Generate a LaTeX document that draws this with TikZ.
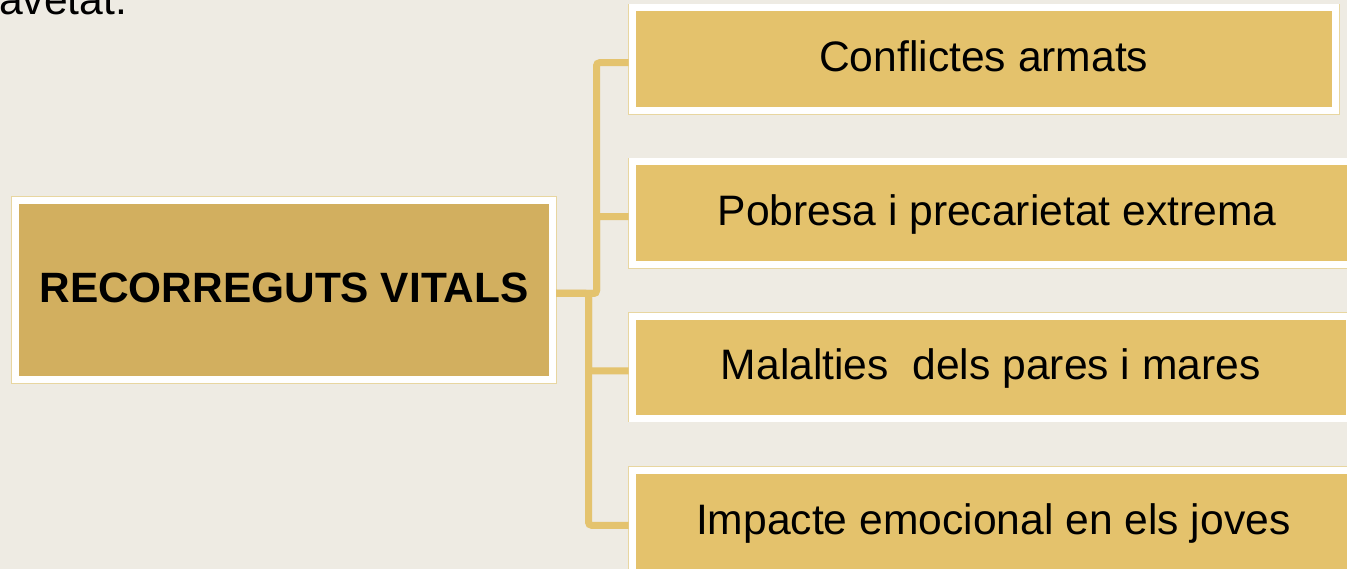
\documentclass[tikz,border=0pt]{standalone}
\usepackage{fontspec}
\setmainfont{Liberation Sans}

\definecolor{paper}{RGB}{238,235,227}
\definecolor{rootgold}{RGB}{210,175,95}
\definecolor{boxgold}{RGB}{228,194,108}
\definecolor{linkgold}{RGB}{228,195,110}
\definecolor{rimgold}{RGB}{232,214,160}

\begin{document}
\begin{tikzpicture}[x=1pt, y=-1pt,
    box/.style={draw=white, line width=7pt, fill=boxgold, inner sep=0pt,
        minimum height=102.5pt, text height=30.4pt, text depth=5pt,
        font=\fontsize{42.6}{50}\selectfont,
        preaction={draw=rimgold, line width=8.5pt}},
    link/.style={draw=linkgold, line width=7pt, rounded corners=3pt}]
    \useasboundingbox (0,0) rectangle (1347,569);
    \clip (0,0) rectangle (1347,569);
    \fill[paper] (0,0) rectangle (1347,569);
    % Text cut off at the top
    \node[anchor=base west, inner sep=0pt, font=\fontsize{42.6}{50}\selectfont] (avetat) at (-1,15) {avetat.};
    % Root box
    \node[box, fill=rootgold, font=\fontsize{42.4}{50}\selectfont\bfseries,
        minimum width=537pt, minimum height=179pt] (root) at (284,290) {RECORREGUTS VITALS};
    % Branch boxes
    \node[box, minimum width=703.5pt] (conflictes) at (983.75,59.25) {Conflictes armats};
    \node[box, minimum width=730pt] (pobresa) at (997,213.25) {Pobresa i precarietat extrema};
    \node[box, minimum width=717.5pt, minimum height=101.5pt] (malalties) at (990.75,367.25) {Malalties\ \ dels pares i mares};
    \node[box, minimum width=722.5pt] (impacte) at (993.25,521.75) {Impacte emocional en els joves};
    % Elbow connectors
    \draw[link] ([yshift=-3.5pt]root.east) -- ++(40.5,0) |- ([yshift=-3.5pt]conflictes.west);
    \draw[link] ([yshift=-3.5pt]root.east) -- ++(40.5,0) |- ([yshift=-3.5pt]pobresa.west);
    \draw[link] ([yshift=-3.5pt]root.east) -- ++(32.5,0) |- ([yshift=-3.5pt]malalties.west);
    \draw[link] ([yshift=-3.5pt]root.east) -- ++(32.5,0) |- ([yshift=-3.5pt]impacte.west);
\end{tikzpicture}
\end{document}
